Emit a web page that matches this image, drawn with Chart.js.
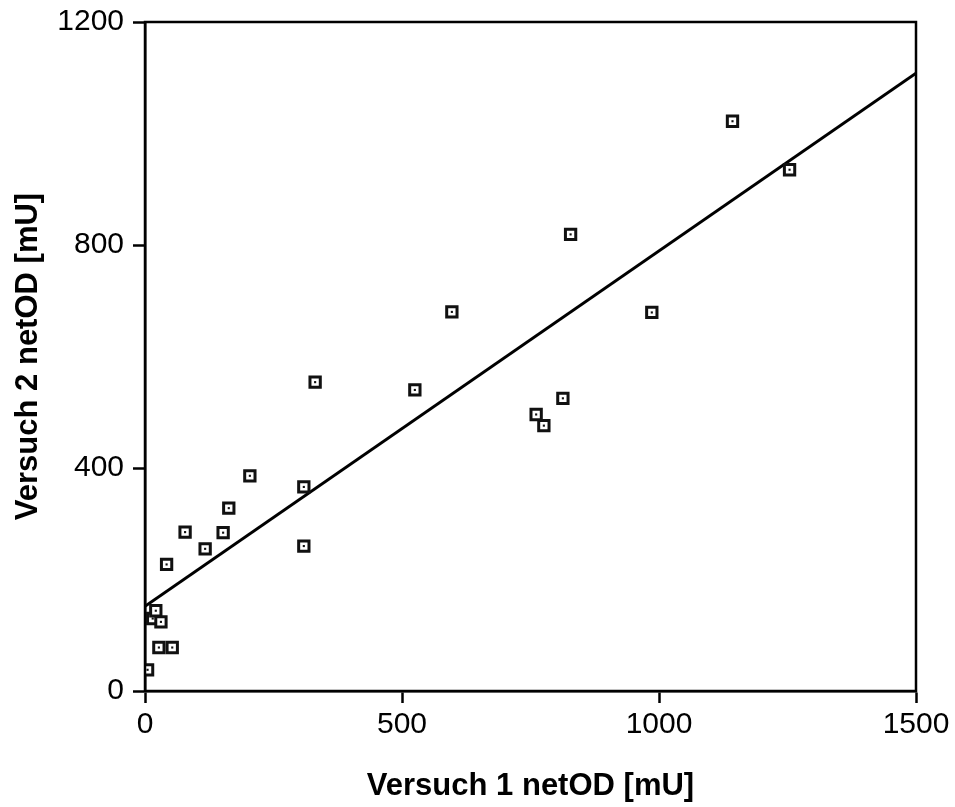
<!DOCTYPE html>
<html>
<head>
<meta charset="utf-8">
<script src="https://cdn.jsdelivr.net/npm/chart.js@4/dist/chart.umd.min.js"></script>
<style>
  html, body { margin: 0; padding: 0; background: #fff; }
  #wrap { width: 955px; height: 807px; }
</style>
</head>
<body>
<div id="wrap"><canvas id="scatterChart"></canvas></div>
<script>
// Versuch 1 vs Versuch 2 netOD [mU]
const versuch1 = [5, 27, 53, 15, 21, 31, 42, 78, 117, 152, 163, 204, 309, 309, 331, 525, 597, 761, 776, 813, 828, 986, 1143, 1254];
const versuch2 = [38, 78, 78, 130, 144, 124, 227, 285, 255, 284, 328, 386, 366, 260, 554, 540, 680, 496, 476, 525, 819, 679, 1022, 935];

// regression line (end points)
const fitX = [0, 1500];
const fitY = [152, 1108];

const xTicks = [0, 500, 1000, 1500];
const yTicks = [0, 400, 800, 1200];

const points = versuch1.map((v, i) => ({ x: v, y: versuch2[i] }));
const fitLine = fitX.map((v, i) => ({ x: v, y: fitY[i] }));

// frame round the plot area (top + right side too)
const boxPlugin = {
  id: "box",
  afterDatasetsDraw(chart) {
    const { ctx, chartArea: a } = chart;
    ctx.save();
    ctx.strokeStyle = "#000";
    ctx.lineWidth = 2.5;
    ctx.strokeRect(a.left, a.top, a.right - a.left, a.bottom - a.top);
    ctx.restore();
  }
};

const tickFont = { family: "'Liberation Sans', Arial, sans-serif", size: 30 };
const titleFont = { family: "'Liberation Sans', Arial, sans-serif", size: 31, weight: "bold" };

new Chart(document.getElementById("scatterChart"), {
  type: "scatter",
  data: {
    datasets: [
      {
        type: "line",
        data: fitLine,
        borderColor: "#000",
        borderWidth: 3,
        pointRadius: 0,
        fill: false,
        order: 3
      },
      {
        data: points,
        pointStyle: "rect",
        pointRadius: 7.3,
        pointBorderWidth: 3,
        pointBorderColor: "#111",
        pointBackgroundColor: "#fff",
        order: 2
      },
      {
        data: points,
        pointStyle: "rect",
        pointRadius: 1.5,
        pointBorderWidth: 0,
        pointBackgroundColor: "#111",
        order: 1
      }
    ]
  },
  options: {
    responsive: true,
    maintainAspectRatio: false,
    animation: false,
    layout: { padding: { left: 0, right: 39, top: 22, bottom: 0 } },
    plugins: {
      legend: { display: false },
      tooltip: { enabled: false }
    },
    scales: {
      x: {
        type: "linear",
        min: 0,
        max: 1500,
        afterBuildTicks: s => { s.ticks = xTicks.map(v => ({ value: v })); },
        afterFit: s => { s.height = 116; s.paddingLeft = 0; s.paddingRight = 0; },
        ticks: { font: tickFont, color: "#000", padding: 4, maxRotation: 0, callback: v => String(v) },
        grid: { drawOnChartArea: false, tickLength: 12, tickWidth: 2.5, tickColor: "#000" },
        border: { display: true, color: "#000", width: 2.5 },
        title: {
          display: true,
          text: "Versuch 1 netOD [mU]",
          font: titleFont,
          color: "#000",
          padding: { top: 0, bottom: 2 }
        }
      },
      y: {
        type: "linear",
        min: 0,
        max: 1200,
        afterBuildTicks: s => { s.ticks = yTicks.map(v => ({ value: v })); },
        afterFit: s => { s.width = 145; s.paddingTop = 0; s.paddingBottom = 0; },
        ticks: { font: tickFont, color: "#000", padding: 9, callback: v => String(v) },
        grid: { drawOnChartArea: false, tickLength: 12, tickWidth: 2.5, tickColor: "#000" },
        border: { display: true, color: "#000", width: 2.5 },
        title: {
          display: true,
          text: "Versuch 2 netOD [mU]",
          font: titleFont,
          color: "#000",
          padding: { top: 10, bottom: 0 }
        }
      }
    }
  },
  plugins: [boxPlugin]
});
</script>
</body>
</html>
